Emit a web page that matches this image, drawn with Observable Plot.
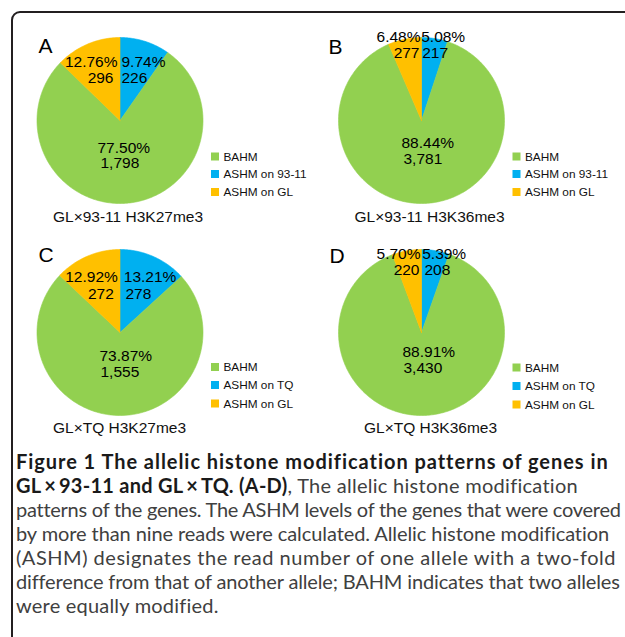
<!DOCTYPE html>
<html><head><meta charset="utf-8">
<script src="https://cdn.jsdelivr.net/npm/d3@7"></script>
<script src="https://cdn.jsdelivr.net/npm/@observablehq/plot@0.6"></script>
<style>
html,body{margin:0;padding:0;background:#fff;overflow:hidden;width:625px;height:637px;}
#wrap{position:relative;width:625px;height:637px;overflow:hidden;}
#frame{position:absolute;left:11px;top:11px;width:700px;height:700px;border:2px solid #231f20;border-radius:9px;box-sizing:border-box;pointer-events:none;}
#chart{position:absolute;left:0;top:0;}
#caption{position:absolute;left:16px;top:449px;font-family:Lato,"Open Sans",sans-serif;font-size:20px;line-height:24px;color:#404040;}
#caption div{white-space:nowrap;height:24px;}
#caption b{color:#1a1a1a;font-weight:700;}
</style></head><body>
<div id="wrap"><div id="chart"></div><div id="caption"></div><div id="frame"></div></div>
<script>
// ---------------- data ----------------
const panels = ["A", "B", "C", "D"];
const titles = ["GL×93-11 H3K27me3", "GL×93-11 H3K36me3", "GL×TQ H3K27me3", "GL×TQ H3K36me3"];
const parents = ["93-11", "93-11", "TQ", "TQ"];
const categories = ["ASHM on parent", "BAHM", "ASHM on GL"]; // clockwise from 12 o'clock
const ashmParent = [226, 217, 278, 208];
const bahm = [1798, 3781, 1555, 3430];
const ashmGL = [296, 277, 272, 220];
const legendOrder = ["BAHM", "ASHM on parent", "ASHM on GL"];
const colors = ["#92D050", "#00B0F0", "#FFC000"];
const captionLines = [
  "<b>Figure 1 The allelic histone modification patterns of genes in</b>",
  "<b>GL\u2009×\u200993-11 and GL\u2009×\u2009TQ. (A-D)</b>, The allelic histone modification",
  "patterns of the genes. The ASHM levels of the genes that were covered",
  "by more than nine reads were calculated. Allelic histone modification",
  "(ASHM) designates the read number of one allele with a two-fold",
  "difference from that of another allele; BAHM indicates that two alleles",
  "were equally modified."
];

// ---------------- layout ----------------
const centers = [[119.5, 120], [421, 120], [119.5, 332], [421, 332]];
const R = 83;
const letterPos = [[38, 52], [328, 53], [38, 261], [329, 262]];
const titlePos = [[127.5, 221.5], [429, 221.5], [119, 432.5], [430, 432.5]];
// [parentPct, parentCnt, glPct, glCnt, bahmPct, bahmCnt] -> [x, baseline]
const labelPos = [
  [[121, 66.7], [121, 82.3], [117, 66.7], [113, 82.3], [97, 152.3], [100, 167.7]],
  [[420.7, 41.7], [421.7, 57.3], [420, 41.7], [419, 57.3], [401, 147.7], [403, 163.3]],
  [[123.3, 281.7], [125, 298], [117.3, 281.7], [113.3, 298], [99, 360], [100, 376]],
  [[421.7, 258.3], [424, 274.3], [420, 258.3], [419, 274.3], [402, 356.7], [403, 372.3]]
];
const legendDy = [[36.5, 54, 72], [36.5, 54, 72], [35, 53, 71.5], [35.5, 54, 72.5]];
const captionWidths = [592, 562, 604, 593, 600, 603, null];

// ---------------- derived marks data ----------------
const pct = d3.format(".2%"), num = d3.format(",");
const slicePts = [], labels = [], legendRows = [];
panels.forEach((p, i) => {
  const vals = [ashmParent[i], bahm[i], ashmGL[i]];
  const total = d3.sum(vals);
  const [cx, cy] = centers[i];
  let acc = 0;
  vals.forEach((v, j) => {
    const a0 = acc / total * 2 * Math.PI, a1 = (acc + v) / total * 2 * Math.PI;
    acc += v;
    const id = p + j;
    slicePts.push({id, cat: categories[j], x: cx, y: cy});
    const n = Math.max(2, Math.ceil((a1 - a0) / (Math.PI / 180)));
    for (let k = 0; k <= n; k++) {
      const a = a0 + (a1 - a0) * k / n;
      slicePts.push({id, cat: categories[j], x: cx + R * Math.sin(a), y: cy - R * Math.cos(a)});
    }
    slicePts.push({id, cat: categories[j], x: cx, y: cy});
  });
  const L = labelPos[i];
  labels.push({x: L[0][0], y: L[0][1], text: pct(ashmParent[i] / total), anchor: "start"});
  labels.push({x: L[1][0], y: L[1][1], text: num(ashmParent[i]), anchor: "start"});
  labels.push({x: L[2][0], y: L[2][1], text: pct(ashmGL[i] / total), anchor: "end"});
  labels.push({x: L[3][0], y: L[3][1], text: num(ashmGL[i]), anchor: "end"});
  labels.push({x: L[4][0], y: L[4][1], text: pct(bahm[i] / total), anchor: "start"});
  labels.push({x: L[5][0], y: L[5][1], text: num(bahm[i]), anchor: "start"});
  legendOrder.forEach((c, k) => {
    legendRows.push({
      cat: c,
      label: c === "ASHM on parent" ? "ASHM on " + parents[i] : c,
      x1: cx + 91.5, x2: cx + 99.5,
      y1: cy + legendDy[i][k] - 4, y2: cy + legendDy[i][k] + 4,
      tx: cx + 103.5, ty: cy + legendDy[i][k]
    });
  });
});
const letters = panels.map((p, i) => ({text: p, x: letterPos[i][0], y: letterPos[i][1]}));
const titleRows = titles.map((t, i) => ({text: t, x: titlePos[i][0], y: titlePos[i][1]}));

const chart = Plot.plot({
  width: 625, height: 445, margin: 0,
  x: {domain: [0, 625], range: [0, 625], axis: null},
  y: {domain: [0, 445], range: [0, 445], axis: null},
  color: {domain: legendOrder, range: colors},
  style: {fontFamily: '"Liberation Sans", Arial, sans-serif', background: "transparent", color: "#000"},
  marks: [
    Plot.line(slicePts, {x: "x", y: "y", z: "id", fill: "cat", stroke: "cat", strokeWidth: 0.6, curve: "linear"}),
    Plot.text(labels.filter(d => d.anchor === "start"), {x: "x", y: "y", text: "text", textAnchor: "start", lineAnchor: "bottom", fontSize: 15.5, fill: "#000"}),
    Plot.text(labels.filter(d => d.anchor === "end"), {x: "x", y: "y", text: "text", textAnchor: "end", lineAnchor: "bottom", fontSize: 15.5, fill: "#000"}),
    Plot.rect(legendRows, {x1: "x1", x2: "x2", y1: "y1", y2: "y2", fill: "cat"}),
    Plot.text(legendRows, {x: "tx", y: "ty", text: "label", textAnchor: "start", fontSize: 11.8, fill: "#111"}),
    Plot.text(titleRows, {x: "x", y: "y", text: "text", textAnchor: "middle", lineAnchor: "bottom", fontSize: 15.5, fill: "#111"}),
    Plot.text(letters, {x: "x", y: "y", text: "text", textAnchor: "start", lineAnchor: "bottom", fontSize: 21, fill: "#000"})
  ]
});
document.getElementById("chart").appendChild(chart);

// caption
const cap = document.getElementById("caption");
const lineEls = captionLines.map(html => {
  const d = document.createElement("div");
  const s = document.createElement("span");
  s.innerHTML = html;
  d.appendChild(s);
  cap.appendChild(d);
  return s;
});
const spacings = [];
lineEls.forEach((s, i) => {
  const w = captionWidths[i];
  if (w == null) return;
  const n = s.textContent.length;
  const ls = (w - s.getBoundingClientRect().width) / n;
  spacings.push(ls);
  s.style.letterSpacing = ls + "px";
});
const avg = d3.mean(spacings);
lineEls.forEach((s, i) => { if (captionWidths[i] == null) s.style.letterSpacing = avg + "px"; });
</script>
</body></html>
